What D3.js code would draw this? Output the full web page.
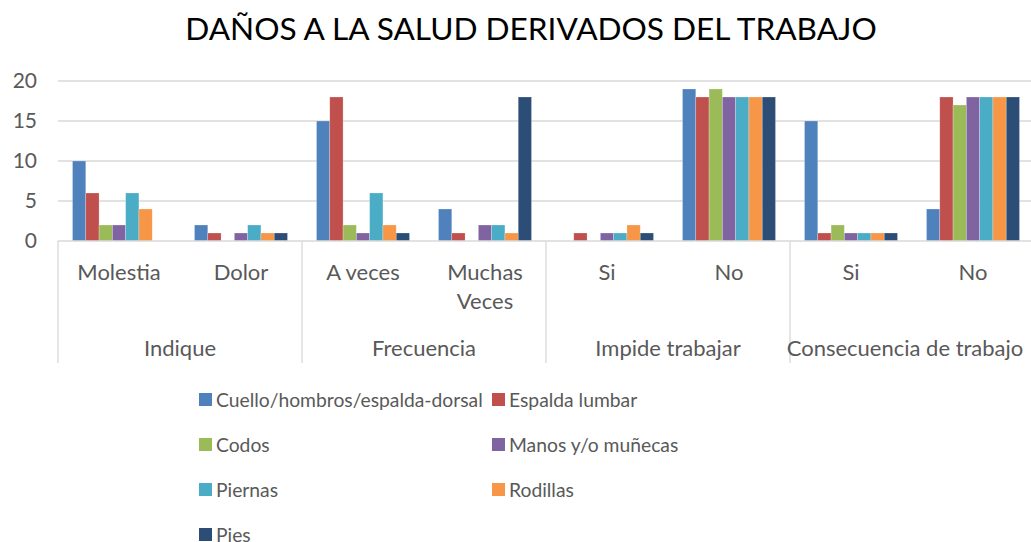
<!DOCTYPE html>
<html>
<head>
<meta charset="utf-8">
<script src="https://cdn.jsdelivr.net/npm/d3@7"></script>
<style>
  body { margin: 0; background: #fff; }
  svg text { font-family: Lato, "Open Sans", sans-serif; fill: #595959; }
</style>
</head>
<body>
<svg width="1031" height="542"></svg>
<script>
// data
var groups = ["Indique", "Frecuencia", "Impide trabajar", "Consecuencia de trabajo"];
var categories = ["Molestia", "Dolor", "A veces", "Muchas Veces", "Si", "No", "Si", "No"];
var series = ["Cuello/hombros/espalda-dorsal", "Espalda lumbar", "Codos", "Manos y/o muñecas", "Piernas", "Rodillas", "Pies"];
var colors = ["#4F81BD", "#C0504D", "#9BBB59", "#8064A2", "#4BACC6", "#F79646", "#2C4D75"];
var cuello   = [10, 2, 15, 4, 0, 19, 15, 4];
var lumbar   = [6, 1, 18, 1, 1, 18, 1, 18];
var codos    = [2, 0, 2, 0, 0, 19, 2, 17];
var manos    = [2, 1, 1, 2, 1, 18, 1, 18];
var piernas  = [6, 2, 6, 2, 1, 18, 1, 18];
var rodillas = [4, 1, 2, 1, 2, 18, 1, 18];
var pies     = [0, 1, 1, 18, 1, 18, 1, 18];
var yTicks = [0, 5, 10, 15, 20];

var values = [cuello, lumbar, codos, manos, piernas, rodillas, pies];

var svg = d3.select("svg");
var plotLeft = 58, plotRight = 1034, plotTop = 81, plotBottom = 241;

var x = d3.scaleBand().domain(d3.range(categories.length)).range([plotLeft, plotRight]).padding(0);
var bw = x.bandwidth();
var xs = d3.scaleBand().domain(d3.range(series.length)).range([14.5, bw - 14.5]).padding(0);
var y = d3.scaleLinear().domain([0, 20]).range([plotBottom, plotTop]);

// title
svg.append("text").attr("x", 531).attr("y", 40).attr("text-anchor", "middle")
  .style("font-size", "31.6px").style("fill", "#000").text("DAÑOS A LA SALUD DERIVADOS DEL TRABAJO");

// gridlines
svg.append("g").selectAll("line").data(yTicks.slice(1)).enter().append("line")
  .attr("x1", plotLeft).attr("x2", plotRight)
  .attr("y1", function (d) { return y(d); }).attr("y2", function (d) { return y(d); })
  .attr("stroke", "#d9d9d9").attr("stroke-width", 1.3);

// y labels
svg.append("g").selectAll("text").data(yTicks).enter().append("text")
  .attr("x", 37).attr("y", function (d) { return y(d) + 7; })
  .attr("text-anchor", "end").style("font-size", "21px")
  .text(function (d) { return d; });

// bars
values.forEach(function (vals, s) {
  svg.append("g").selectAll("rect").data(vals).enter().append("rect")
    .attr("x", function (d, i) { return x(i) + xs(s); })
    .attr("width", xs.bandwidth())
    .attr("y", function (d) { return y(d); })
    .attr("height", function (d) { return plotBottom - y(d); })
    .attr("fill", colors[s])
    .attr("stroke", "#fff").attr("stroke-opacity", 0.4).attr("stroke-width", 0.6);
});

// category axis
svg.append("line").attr("x1", plotLeft).attr("x2", plotRight).attr("y1", plotBottom).attr("y2", plotBottom)
  .attr("stroke", "#d9d9d9").attr("stroke-width", 1.3);
var gw = (plotRight - plotLeft) / groups.length;
d3.range(groups.length + 1).forEach(function (g) {
  svg.append("line").attr("x1", plotLeft + g * gw).attr("x2", plotLeft + g * gw)
    .attr("y1", plotBottom).attr("y2", 363)
    .attr("stroke", "#d9d9d9").attr("stroke-width", 1.3);
});

categories.forEach(function (c, i) {
  var t = svg.append("text").attr("x", x(i) + bw / 2).attr("y", 280)
    .attr("text-anchor", "middle").style("font-size", "22px");
  var parts = c === "Muchas Veces" ? ["Muchas", "Veces"] : [c];
  parts.forEach(function (p, k) {
    t.append("tspan").attr("x", x(i) + bw / 2).attr("dy", k === 0 ? 0 : 29).text(p);
  });
});

groups.forEach(function (g, i) {
  svg.append("text").attr("x", plotLeft + i * gw + gw / 2 - (i === 3 ? 7 : 0)).attr("y", 356)
    .attr("text-anchor", "middle").style("font-size", "22px").text(g);
});

// legend
series.forEach(function (s, i) {
  var col = i % 2, row = Math.floor(i / 2);
  var lx = col === 0 ? 199 : 492;
  var ly = 400 + row * 45;
  svg.append("rect").attr("x", lx).attr("y", ly - 7).attr("width", 13).attr("height", 13).attr("fill", colors[i]);
  svg.append("text").attr("x", lx + 17).attr("y", ly + 7).style("font-size", "19.3px").text(s);
});
</script>
</body>
</html>
